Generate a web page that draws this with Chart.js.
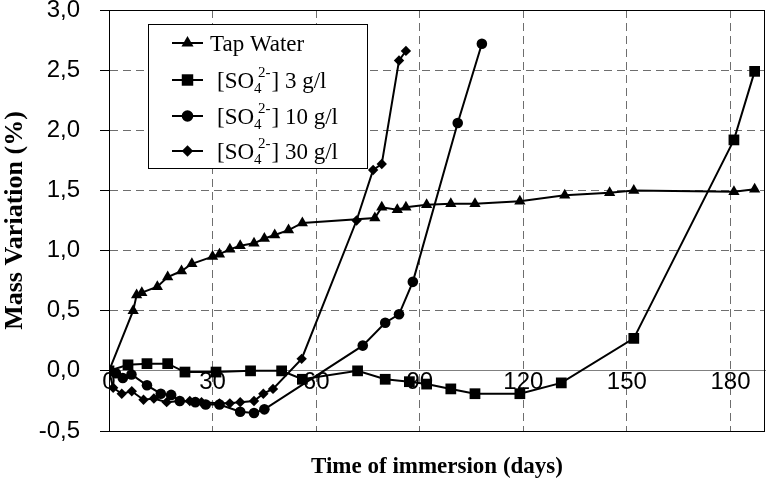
<!DOCTYPE html>
<html>
<head>
<meta charset="utf-8">
<script src="https://cdn.jsdelivr.net/npm/chart.js@4.4.1/dist/chart.umd.min.js"></script>
<style>
  html, body { margin: 0; padding: 0; background: #fff; }
</style>
</head>
<body>
<canvas id="myChart" width="767" height="484"></canvas>
<script>
// days / mass variation (%)
const tapDays = [0, 7, 8, 9.5, 14, 17, 21, 24, 30, 32, 35, 38, 42, 45, 48, 52, 56, 77, 79, 83.5, 86, 92, 99, 106, 119, 132, 145, 152, 181, 187];
const tapMass = [0, 0.50, 0.63, 0.65, 0.70, 0.78, 0.83, 0.89, 0.95, 0.97, 1.01, 1.04, 1.06, 1.10, 1.13, 1.17, 1.23, 1.27, 1.36, 1.34, 1.36, 1.38, 1.39, 1.39, 1.41, 1.46, 1.48, 1.50, 1.49, 1.51];

const so3Days = [0, 5.5, 11, 17, 22, 31, 41, 50, 56, 72, 80, 87, 92, 99, 106, 119, 131, 152, 181, 187];
const so3Mass = [0, 0.05, 0.06, 0.06, -0.01, -0.01, 0, 0, -0.07, 0, -0.07, -0.09, -0.11, -0.15, -0.19, -0.19, -0.10, 0.27, 1.92, 2.49];

const so10Days = [0, 2, 4, 6.5, 11, 15, 18, 20.5, 25, 28, 32, 38, 42, 45, 73.5, 80, 84, 88, 101, 108];
const so10Mass = [0, -0.02, -0.06, -0.03, -0.12, -0.19, -0.20, -0.25, -0.26, -0.28, -0.28, -0.34, -0.35, -0.32, 0.21, 0.40, 0.47, 0.74, 2.06, 2.72];

const so30Days = [0, 1.2, 3.7, 6.6, 10, 13, 16.7, 20.5, 23.4, 26.8, 32, 35, 38, 42, 44.7, 47.5, 55.8, 71.7, 76.5, 79, 84, 86];
const so30Mass = [0, -0.14, -0.19, -0.17, -0.24, -0.23, -0.26, -0.25, -0.25, -0.26, -0.27, -0.27, -0.26, -0.25, -0.19, -0.15, 0.10, 1.25, 1.67, 1.72, 2.58, 2.66];

const xTicks = [0, 30, 60, 90, 120, 150, 180];
const yTicks = [-0.5, 0, 0.5, 1, 1.5, 2, 2.5, 3];

const concentrations = ['3 g/l', '10 g/l', '30 g/l'];

function pts(xs, ys) {
  return xs.map((x, i) => ({ x: x, y: ys[i] }));
}

function series(label, xs, ys, style, r) {
  return {
    label: label,
    data: pts(xs, ys),
    xAxisID: 'x',
    yAxisID: 'y',
    borderColor: '#000',
    borderWidth: 2,
    backgroundColor: '#000',
    pointBackgroundColor: '#000',
    pointBorderColor: '#000',
    pointBorderWidth: 0,
    pointStyle: style,
    pointRadius: r,
    tension: 0,
    fill: false
  };
}

// draws a marker the same way for the legend box
function marker(ctx, style, x, y, r) {
  ctx.beginPath();
  if (style === 'triangle') {
    let a = 0;
    ctx.moveTo(x + Math.sin(a) * r, y - Math.cos(a) * r);
    a += Math.PI * 2 / 3;
    ctx.lineTo(x + Math.sin(a) * r, y - Math.cos(a) * r);
    a += Math.PI * 2 / 3;
    ctx.lineTo(x + Math.sin(a) * r, y - Math.cos(a) * r);
  } else if (style === 'rect') {
    const s = r * Math.SQRT1_2;
    ctx.rect(x - s, y - s, 2 * s, 2 * s);
  } else if (style === 'circle') {
    ctx.arc(x, y, r, 0, Math.PI * 2);
  } else {
    ctx.moveTo(x, y - r);
    ctx.lineTo(x + r, y);
    ctx.lineTo(x, y + r);
    ctx.lineTo(x - r, y);
  }
  ctx.closePath();
  ctx.fill();
}

const frame = {
  id: 'frame',
  beforeDatasetsDraw(chart) {
    const { ctx, chartArea: a } = chart;
    ctx.save();
    ctx.strokeStyle = '#000';
    ctx.lineWidth = 1;
    ctx.strokeRect(Math.round(a.left) + 0.5, Math.round(a.top) + 0.5,
      Math.round(a.right - a.left) - 1, Math.round(a.bottom - a.top));
    ctx.restore();
  }
};

const boxLegend = {
  id: 'boxLegend',
  afterDraw(chart) {
    const ctx = chart.ctx;
    const bx = 148, by = 24, bw = 219, bh = 144;
    ctx.save();
    ctx.fillStyle = '#fff';
    ctx.fillRect(bx, by, bw, bh);
    ctx.strokeStyle = '#000';
    ctx.lineWidth = 1;
    ctx.strokeRect(bx + 0.5, by + 0.5, bw, bh);

    const rowsY = [43, 80, 116, 151];
    chart.data.datasets.forEach((ds, i) => {
      const y = rowsY[i];
      ctx.strokeStyle = '#000';
      ctx.lineWidth = 2;
      ctx.beginPath();
      ctx.moveTo(172, y);
      ctx.lineTo(203, y);
      ctx.stroke();
      ctx.fillStyle = '#000';
      marker(ctx, ds.pointStyle, 187.5, y, ds.pointRadius + 0.5);

      ctx.textAlign = 'left';
      ctx.textBaseline = 'alphabetic';
      const big = '23px "Liberation Serif"';
      const small = '15px "Liberation Serif"';
      if (i === 0) {
        ctx.font = big;
        ctx.fillText(ds.label, 210, y + 8);
      } else {
        let x = 217;
        const base = y + 8;
        ctx.font = big;
        ctx.fillText('[SO', x, base);
        x += ctx.measureText('[SO').width;
        ctx.font = small;
        ctx.fillText('4', x, base + 5);
        const wSub = ctx.measureText('4').width;
        ctx.fillText('2-', x + 4, base - 11);
        const wSup = ctx.measureText('2-').width + 4;
        x += Math.max(wSub, wSup) + 1;
        ctx.font = big;
        ctx.fillText('] ' + concentrations[i - 1], x, base);
      }
    });
    ctx.restore();
  }
};

const ctx = document.getElementById('myChart');

new Chart(ctx, {
  type: 'line',
  data: {
    datasets: [
      series('Tap Water', tapDays, tapMass, 'triangle', 6.5),
      series('[SO4 2-] 3 g/l', so3Days, so3Mass, 'rect', 7.6),
      series('[SO4 2-] 10 g/l', so10Days, so10Mass, 'circle', 5.3),
      series('[SO4 2-] 30 g/l', so30Days, so30Mass, 'rectRot', 5.2)
    ]
  },
  options: {
    responsive: false,
    animation: false,
    layout: { autoPadding: false, padding: { top: 10, right: 2, left: 0, bottom: 0 } },
    plugins: {
      legend: { display: false },
      tooltip: { enabled: false }
    },
    scales: {
      x: {
        type: 'linear',
        position: { y: 0 },
        min: 0,
        max: 190,
        afterBuildTicks: (s) => { s.ticks = xTicks.map(v => ({ value: v })); },
        afterFit: (s) => { s.paddingLeft = 0; s.paddingRight = 0; },
        ticks: {
          padding: 0,
          color: '#000',
          font: { family: 'Liberation Sans', size: 24, lineHeight: 1 },
          callback: (v) => String(v)
        },
        grid: { color: '#6e6e6e', lineWidth: 1, drawTicks: false },
        border: { color: '#808080', width: 1, dash: () => [8, 5] }
      },
      y: {
        min: -0.5,
        max: 3,
        afterBuildTicks: (s) => { s.ticks = yTicks.map(v => ({ value: v })); },
        afterFit: (s) => { s.width = 109; s.paddingTop = 0; s.paddingBottom = 0; },
        ticks: {
          padding: 20,
          color: '#000',
          font: { family: 'Liberation Sans', size: 24, lineHeight: 0.8 },
          callback: (v) => v.toFixed(1).replace('.', ',')
        },
        grid: { color: '#6e6e6e', lineWidth: 1, tickColor: '#000', tickLength: 9 },
        border: { color: '#000', width: 1, dash: () => [8, 5] },
        title: {
          display: true,
          text: 'Mass Variation (%)',
          color: '#000',
          font: { family: 'Liberation Serif', size: 26, weight: 'bold' },
          padding: { top: 0, bottom: 0 }
        }
      },
      x2: {
        type: 'linear',
        position: 'bottom',
        grid: { display: false, drawTicks: false },
        border: { display: false },
        ticks: { display: false },
        afterFit: (s) => { s.height = 53; s.paddingLeft = 0; s.paddingRight = 0; },
        title: {
          display: true,
          text: 'Time of immersion (days)',
          color: '#000',
          font: { family: 'Liberation Serif', size: 23, weight: 'bold' },
          padding: { top: 22, bottom: 3 }
        }
      }
    }
  },
  plugins: [frame, boxLegend]
});
</script>
</body>
</html>
